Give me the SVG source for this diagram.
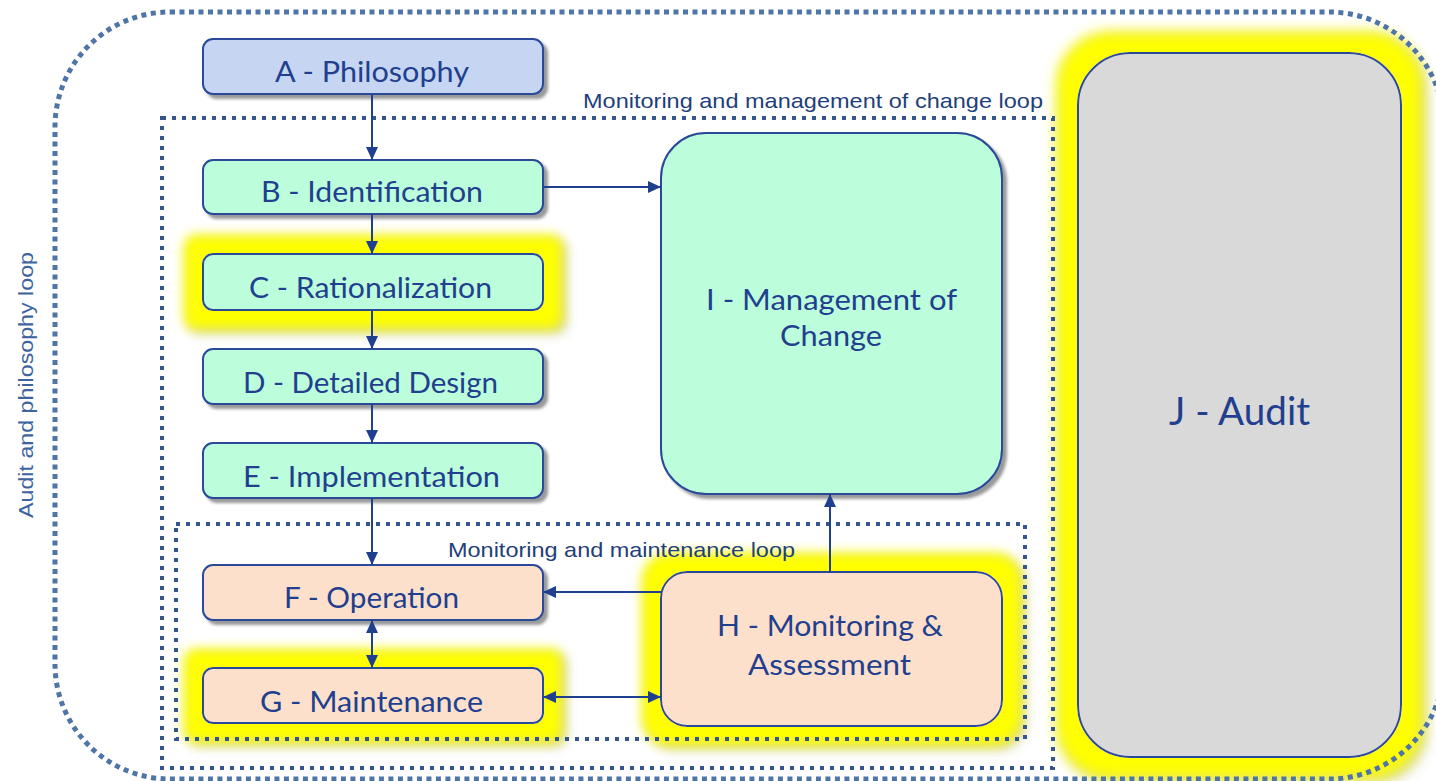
<svg xmlns="http://www.w3.org/2000/svg" width="1436" height="781" viewBox="0 0 1436 781">
<defs>
<style>
.node{stroke:#2b4a98;stroke-width:2}
.t{font-family:Lato,"Open Sans","Noto Sans",sans-serif;fill:#213f8e;text-anchor:middle;font-size:28px}
.lbl{font-family:"Liberation Sans",Arial,sans-serif;fill:#1f3f7a;font-size:21px}
.con{stroke:#1f3f8f;stroke-width:2;fill:none}
.loopO{fill:none;stroke:#4f75a6;stroke-width:5;stroke-dasharray:5 4.5}
.loopI{fill:none;stroke:#34568c;stroke-width:4;stroke-dasharray:4 6}
</style>
<filter id="sh" x="-10%" y="-10%" width="130%" height="140%">
<feDropShadow dx="4" dy="4" stdDeviation="1.5" flood-color="#000" flood-opacity="0.4"/>
</filter>
<filter id="glow" x="-0.25" y="-1" width="1.5" height="3">
<feMorphology in="SourceAlpha" operator="dilate" radius="18" result="d"/>
<feGaussianBlur in="d" stdDeviation="6" result="b"/>
<feOffset in="b" dx="4" dy="4" result="bo"/>
<feFlood flood-color="#6a6a20" flood-opacity="0.45"/>
<feComposite in2="bo" operator="in" result="s"/>
<feFlood flood-color="#ffff00"/>
<feComposite in2="b" operator="in" result="y"/>
<feMerge><feMergeNode in="s"/><feMergeNode in="y"/><feMergeNode in="SourceGraphic"/></feMerge>
</filter>
<filter id="glowJ" x="-0.2" y="-0.1" width="1.4" height="1.2">
<feMorphology in="SourceAlpha" operator="dilate" radius="20" result="d"/>
<feGaussianBlur in="d" stdDeviation="7" result="b"/>
<feOffset in="b" dx="4" dy="4" result="bo"/>
<feFlood flood-color="#6a6a20" flood-opacity="0.45"/>
<feComposite in2="bo" operator="in" result="s"/>
<feFlood flood-color="#ffff00"/>
<feComposite in2="b" operator="in" result="y"/>
<feMerge><feMergeNode in="s"/><feMergeNode in="y"/><feMergeNode in="SourceGraphic"/></feMerge>
</filter>
<marker id="arr" viewBox="0 0 13 12" refX="13" refY="6" markerWidth="13" markerHeight="12" markerUnits="userSpaceOnUse" orient="auto-start-reverse">
<path d="M0,0 L13,6 L0,12 z" fill="#1f3f8f"/>
</marker>
</defs>
<rect width="1436" height="781" fill="#ffffff"/>

<g id="J">
<rect class="node" x="1078" y="53" width="323" height="704" rx="52" fill="#d9d9d9" filter="url(#glowJ)"/>
<text class="t" x="1239.5" y="425" style="font-size:38px" textLength="141" lengthAdjust="spacingAndGlyphs">J - Audit</text>
</g>

<g id="A">
<rect class="node" x="203" y="39" width="340" height="55" rx="10" fill="#c6d6f2" filter="url(#sh)"/>
<text class="t" x="372" y="82" textLength="194" lengthAdjust="spacingAndGlyphs">A - Philosophy</text>
</g>
<g id="B">
<rect class="node" x="203" y="160" width="340" height="54" rx="10" fill="#bcfddc" filter="url(#sh)"/>
<text class="t" x="372" y="202" textLength="222" lengthAdjust="spacingAndGlyphs">B - Identification</text>
</g>
<g id="C">
<rect class="node" x="203" y="254" width="340" height="56" rx="10" fill="#bcfddc" filter="url(#glow)"/>
<text class="t" x="370.5" y="298" textLength="243" lengthAdjust="spacingAndGlyphs">C - Rationalization</text>
</g>
<g id="D">
<rect class="node" x="203" y="349" width="340" height="55" rx="10" fill="#bcfddc" filter="url(#sh)"/>
<text class="t" x="370.5" y="393" textLength="255" lengthAdjust="spacingAndGlyphs">D - Detailed Design</text>
</g>
<g id="E">
<rect class="node" x="203" y="443" width="340" height="55" rx="10" fill="#bcfddc" filter="url(#sh)"/>
<text class="t" x="371.5" y="487" textLength="257" lengthAdjust="spacingAndGlyphs">E - Implementation</text>
</g>
<g id="F">
<rect class="node" x="203" y="565" width="340" height="55" rx="10" fill="#fde0cc" filter="url(#sh)"/>
<text class="t" x="371.5" y="608" textLength="175" lengthAdjust="spacingAndGlyphs">F - Operation</text>
</g>
<g id="G">
<rect class="node" x="203" y="668" width="340" height="55" rx="10" fill="#fde0cc" filter="url(#glow)"/>
<text class="t" x="371.5" y="712" textLength="223" lengthAdjust="spacingAndGlyphs">G - Maintenance</text>
</g>
<g id="H">
<rect class="node" x="661" y="572" width="341" height="154" rx="26" fill="#fde0cc" filter="url(#glow)"/>
<text class="t" x="830" y="636" textLength="226" lengthAdjust="spacingAndGlyphs">H - Monitoring &amp;</text>
<text class="t" x="829.5" y="675" textLength="163" lengthAdjust="spacingAndGlyphs">Assessment</text>
</g>
<g id="I">
<rect class="node" x="661" y="133" width="341" height="361" rx="45" fill="#bcfddc" filter="url(#sh)"/>
<text class="t" x="831.5" y="310" textLength="251" lengthAdjust="spacingAndGlyphs">I - Management of</text>
<text class="t" x="831" y="346" textLength="102" lengthAdjust="spacingAndGlyphs">Change</text>
</g>

<g id="loops">
<rect id="audit-loop" class="loopO" x="55" y="12" width="1389" height="767" rx="115"/>
<rect id="moc-loop" class="loopI" x="162" y="118" width="891" height="650"/>
<rect id="maint-loop" class="loopI" x="176" y="524" width="849" height="215"/>
<text class="lbl" x="583" y="108" textLength="460" lengthAdjust="spacingAndGlyphs">Monitoring  and management  of  change  loop</text>
<text class="lbl" x="448" y="557" textLength="347" lengthAdjust="spacingAndGlyphs">Monitoring  and maintenance  loop</text>
<text class="lbl" style="fill:#3d64a0;text-anchor:middle" transform="translate(33,385) rotate(-90)" textLength="266" lengthAdjust="spacingAndGlyphs">Audit and philosophy  loop</text>
</g>

<g id="connectors">
<line class="con" x1="372" y1="95" x2="372" y2="160" marker-end="url(#arr)"/>
<line class="con" x1="372" y1="214" x2="372" y2="254" marker-end="url(#arr)"/>
<line class="con" x1="372" y1="310" x2="372" y2="349" marker-end="url(#arr)"/>
<line class="con" x1="372" y1="404" x2="372" y2="443" marker-end="url(#arr)"/>
<line class="con" x1="372" y1="498" x2="372" y2="565" marker-end="url(#arr)"/>
<line class="con" x1="372" y1="620" x2="372" y2="668" marker-start="url(#arr)" marker-end="url(#arr)"/>
<line class="con" x1="543" y1="187" x2="661" y2="187" marker-end="url(#arr)"/>
<line class="con" x1="661" y1="592" x2="543" y2="592" marker-end="url(#arr)"/>
<line class="con" x1="543" y1="697" x2="661" y2="697" marker-start="url(#arr)" marker-end="url(#arr)"/>
<line class="con" x1="830" y1="572" x2="830" y2="494" marker-end="url(#arr)"/>
</g>
</svg>
